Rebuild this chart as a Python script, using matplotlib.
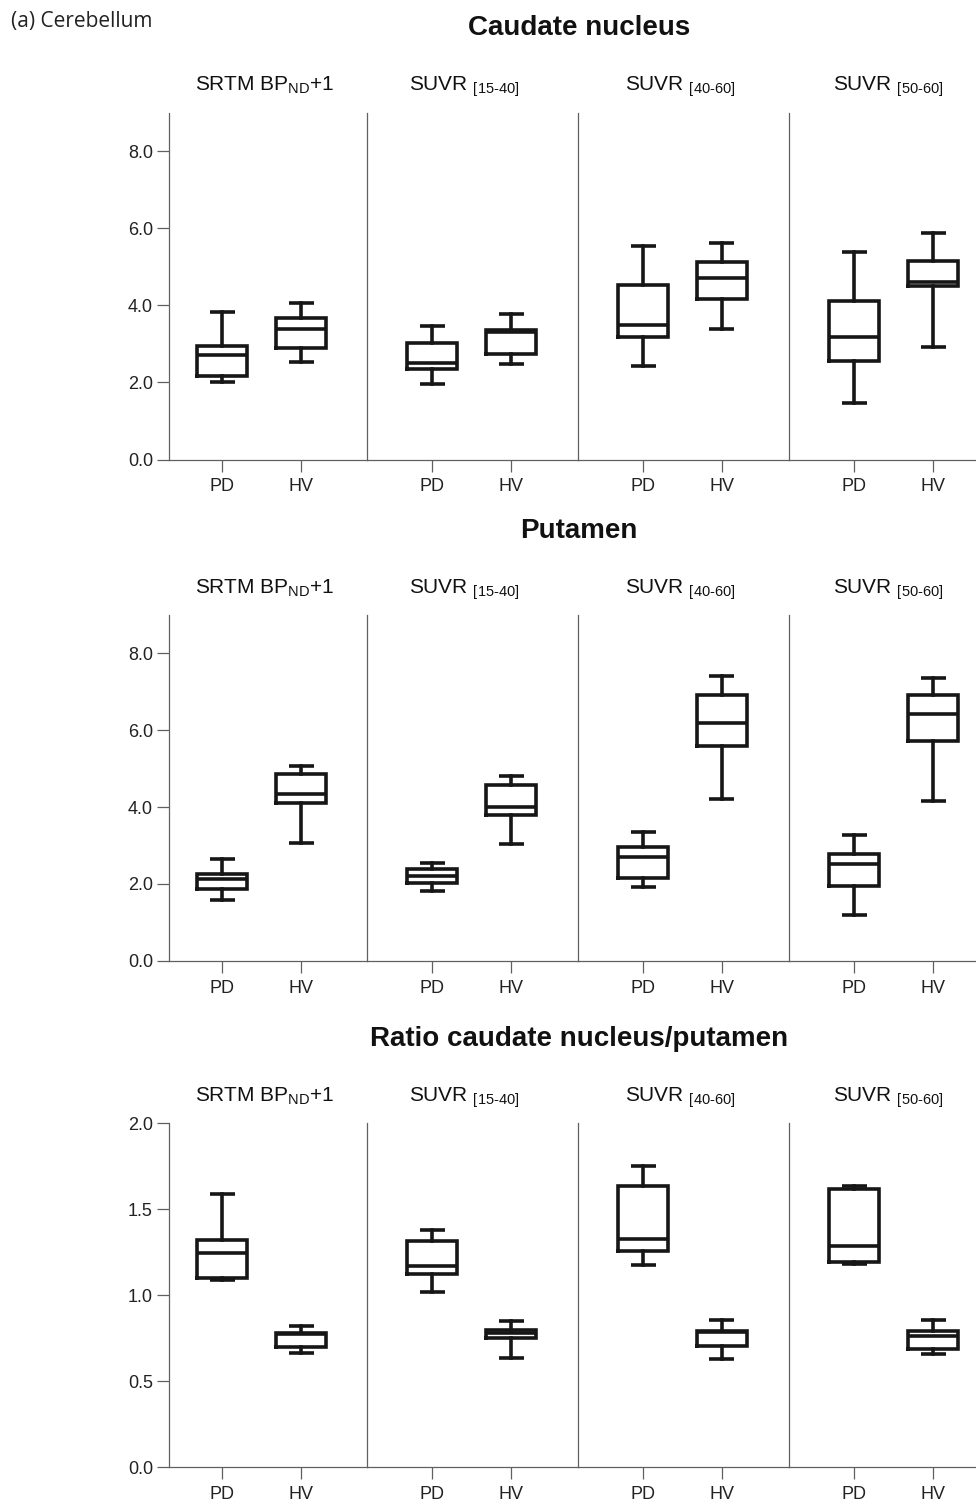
import numpy as np
import matplotlib.pyplot as plt

plt.rcParams['font.family'] = 'Liberation Sans'
plt.rcParams['mathtext.fontset'] = 'custom'
plt.rcParams['mathtext.rm'] = 'Liberation Sans'
plt.rcParams['mathtext.it'] = 'Liberation Sans:italic'
plt.rcParams['mathtext.bf'] = 'Liberation Sans:bold'

# groups and methods
groups = ['PD', 'HV']
methods = [r'SRTM BP$_{\text{ND}}$+1', r'SUVR $_{\text{[15-40]}}$',
           r'SUVR $_{\text{[40-60]}}$', r'SUVR $_{\text{[50-60]}}$']
regions = ['Caudate nucleus', 'Putamen', 'Ratio caudate nucleus/putamen']

# box stats per method: [whisker low, Q1, median, Q3, whisker high]
caudate_pd = [[2.00, 2.16, 2.71, 2.94, 3.82],
              [1.95, 2.35, 2.50, 3.03, 3.46],
              [2.42, 3.19, 3.50, 4.53, 5.53],
              [1.46, 2.55, 3.19, 4.10, 5.39]]
caudate_hv = [[2.52, 2.88, 3.39, 3.66, 4.06],
              [2.47, 2.74, 3.30, 3.36, 3.78],
              [3.38, 4.16, 4.72, 5.11, 5.62],
              [2.91, 4.49, 4.61, 5.14, 5.88]]

putamen_pd = [[1.59, 1.87, 2.14, 2.25, 2.65],
              [1.82, 2.01, 2.20, 2.39, 2.55],
              [1.93, 2.16, 2.69, 2.97, 3.36],
              [1.20, 1.95, 2.53, 2.77, 3.27]]
putamen_hv = [[3.07, 4.11, 4.35, 4.85, 5.07],
              [3.05, 3.79, 4.01, 4.57, 4.81],
              [4.21, 5.60, 6.20, 6.91, 7.41],
              [4.16, 5.71, 6.41, 6.92, 7.36]]

ratio_pd = [[1.088, 1.102, 1.243, 1.320, 1.587],
            [1.021, 1.121, 1.168, 1.314, 1.377],
            [1.177, 1.256, 1.325, 1.634, 1.748],
            [1.183, 1.193, 1.287, 1.616, 1.634]]
ratio_hv = [[0.662, 0.699, 0.775, 0.782, 0.819],
            [0.634, 0.751, 0.778, 0.798, 0.847],
            [0.632, 0.705, 0.784, 0.792, 0.857],
            [0.657, 0.686, 0.765, 0.789, 0.857]]

yticks_signal = [0.0, 2.0, 4.0, 6.0, 8.0]
yticks_ratio = [0.0, 0.5, 1.0, 1.5, 2.0]

rows = [(caudate_pd, caudate_hv, 9.0, yticks_signal),
        (putamen_pd, putamen_hv, 9.0, yticks_signal),
        (ratio_pd, ratio_hv, 2.0, yticks_ratio)]

# layout in pixels
W, H = 976, 1504
row_top = [112.5, 615.0, 1123.0]
row_bottom = [459.5, 960.7, 1467.3]
edges = [169, 367, 578, 789, 1000]
pd_offset = [53, 65, 65, 65]
unit_px = 79.0
header_x = [265, 464, 680, 888]
title_x = 579

axcol = '#606060'
boxcol = '#161616'
lw_box = 2.6

fig = plt.figure(figsize=(W / 100, H / 100), dpi=100)

def stat(v):
    return dict(whislo=v[0], q1=v[1], med=v[2], q3=v[3], whishi=v[4], fliers=[])

for r, (pd_vals, hv_vals, ymax, yt) in enumerate(rows):
    top, bot = row_top[r], row_bottom[r]
    for p in range(4):
        x0, x1 = edges[p], edges[p + 1]
        ax = fig.add_axes([x0 / W, 1 - bot / H, (x1 - x0) / W, (bot - top) / H])
        ax.set_facecolor('none')
        lw_props = dict(color=boxcol, linewidth=lw_box, solid_joinstyle='miter')
        ax.bxp([stat(pd_vals[p]), stat(hv_vals[p])], positions=[1, 2],
               widths=50 / unit_px, capwidths=25 / unit_px, showfliers=False,
               boxprops=lw_props, whiskerprops=lw_props,
               capprops=dict(color=boxcol, linewidth=lw_box, solid_capstyle='butt'),
               medianprops=lw_props, manage_ticks=False)
        xa = 1 - pd_offset[p] / unit_px
        ax.set_xlim(xa, xa + (x1 - x0) / unit_px)
        ax.set_ylim(0, ymax)

        ax.spines['top'].set_visible(False)
        for s in ['left', 'right', 'bottom']:
            ax.spines[s].set_color(axcol)
            ax.spines[s].set_linewidth(0.9)
        ax.set_xticks([1, 2], groups)
        ax.tick_params(axis='x', length=8.6, width=0.9, color=axcol, pad=5,
                       labelsize=13, labelcolor='#222222')
        if p == 0:
            ax.set_yticks(yt, ['%.1f' % t for t in yt])
            ax.tick_params(axis='y', length=8.6, width=0.9, color=axcol, pad=3,
                           labelsize=13, labelcolor='#222222')
        else:
            ax.spines['left'].set_visible(False)
            ax.set_yticks([])

        fig.text(header_x[p] / W, 1 - (top - 21.5) / H, methods[p],
                 ha='center', va='baseline', fontsize=15, color='#111111')

    fig.text(title_x / W, 1 - (top - 77.5) / H, regions[r], ha='center',
             va='baseline', fontsize=20, fontweight='bold', color='#111111')

fig.text(11 / W, 1 - 27.5 / H, '(a) Cerebellum', ha='left', va='baseline',
         fontsize=15, family='Open Sans', color='#222222')

fig.savefig('out.png', dpi=100)
